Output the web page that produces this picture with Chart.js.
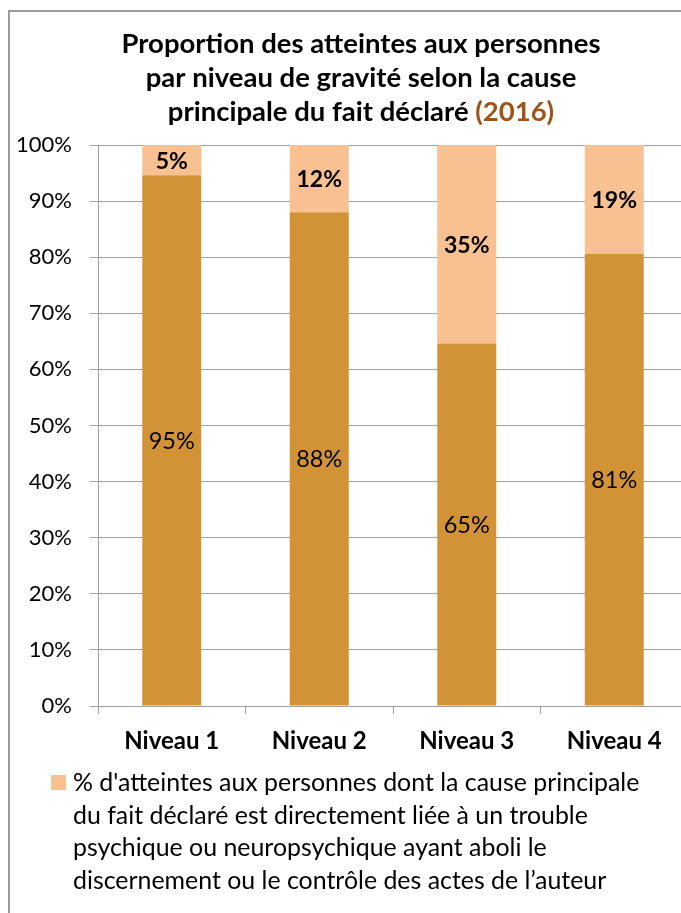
<!DOCTYPE html>
<html>
<head>
<meta charset="utf-8">
<script src="https://cdn.jsdelivr.net/npm/chart.js@4.4.1/dist/chart.umd.min.js"></script>
<style>
    html, body { margin: 0; padding: 0; background: #fff; overflow: hidden; }
    #frame { position: absolute; left: 8px; top: 10px; width: 900px; height: 1000px;
             border-left: 2px solid #9a9a9a; border-top: 2px solid #9a9a9a; }
    #wrap { position: absolute; left: 0; top: 0; width: 700px; height: 913px; }
</style>
</head>
<body>
<div id="frame"></div>
<div id="wrap"><canvas id="chart" width="700" height="913"></canvas></div>
<script>
// Data
const categories = ['Niveau 1', 'Niveau 2', 'Niveau 3', 'Niveau 4'];
const otherCauses = [94.6, 88, 64.6, 80.6];
const troubleCause = [5.4, 12, 35.4, 19.4];
const yTicks = [0, 10, 20, 30, 40, 50, 60, 70, 80, 90, 100];

const titleLines = [
    'Proportion des atteintes aux personnes',
    'par niveau de gravité selon la cause',
    'principale du fait déclaré'
];
const titleYear = '(2016)';
const legendLines = [
    "% d'atteintes aux personnes dont la cause principale",
    'du fait déclaré est directement liée à un trouble',
    'psychique ou neuropsychique ayant aboli le',
    'discernement ou le contrôle des actes de l\u2019auteur'
];

const FONT = 'Lato, "Liberation Sans", Arial, sans-serif';
const DARK = '#D29337';
const LIGHT = '#F9C191';

// Title with the year in brown
const titlePlugin = {
    id: 'titlePlugin',
    afterDraw(chart) {
        const ctx = chart.ctx;
        const cx = 361;
        const baselines = [53, 87, 121];
        ctx.save();
        ctx.font = 'bold 27.5px ' + FONT;
        ctx.textBaseline = 'alphabetic';
        ctx.fillStyle = '#000';
        titleLines.forEach((line, i) => {
            if (i < titleLines.length - 1) {
                ctx.textAlign = 'center';
                ctx.fillText(line, cx, baselines[i]);
            } else {
                const first = line + ' ';
                const w1 = ctx.measureText(first).width;
                const w2 = ctx.measureText(titleYear).width;
                const x0 = cx - (w1 + w2) / 2;
                ctx.textAlign = 'left';
                ctx.fillText(first, x0, baselines[i]);
                ctx.fillStyle = '#9E5418';
                ctx.fillText(titleYear, x0 + w1, baselines[i]);
            }
        });
        ctx.restore();
    }
};

// Percent labels in the middle of each segment
const valueLabels = {
    id: 'valueLabels',
    afterDatasetsDraw(chart) {
        const ctx = chart.ctx;
        ctx.save();
        ctx.textAlign = 'center';
        ctx.textBaseline = 'middle';
        ctx.fillStyle = '#000';
        chart.data.datasets.forEach((ds, i) => {
            const meta = chart.getDatasetMeta(i);
            ctx.font = (i === 1 ? 'bold 23px ' : '23.5px ') + FONT;
            meta.data.forEach((bar, j) => {
                const y = (bar.y + bar.base) / 2;
                ctx.fillText(Math.round(ds.data[j]) + '%', bar.x, y + 1);
            });
        });
        ctx.restore();
    }
};

// Legend with wrapped text, only the second series
const wrappedLegend = {
    id: 'wrappedLegend',
    afterDraw(chart) {
        const ctx = chart.ctx;
        const ds = chart.data.datasets[1];
        ctx.save();
        ctx.fillStyle = ds.backgroundColor;
        ctx.fillRect(51, 775, 15, 15);
        ctx.fillStyle = '#000';
        ctx.font = '24.9px ' + FONT;
        ctx.textAlign = 'left';
        ctx.textBaseline = 'alphabetic';
        legendLines.forEach((line, i) => {
            ctx.fillText(line, 73, 791 + i * 32.7);
        });
        ctx.restore();
    }
};

const ctx = document.getElementById('chart').getContext('2d');
new Chart(ctx, {
    type: 'bar',
    data: {
        labels: categories,
        datasets: [
            {
                label: 'Autres causes',
                data: otherCauses,
                backgroundColor: DARK,
                borderWidth: 0
            },
            {
                label: legendLines.join(' '),
                data: troubleCause,
                backgroundColor: LIGHT,
                borderWidth: 0
            }
        ]
    },
    options: {
        responsive: false,
        animation: false,
        layout: {
            padding: { top: 145, right: 12, bottom: 157, left: 0 }
        },
        datasets: {
            bar: { barPercentage: 0.4, categoryPercentage: 1 }
        },
        scales: {
            x: {
                stacked: true,
                grid: {
                    offset: true,
                    drawOnChartArea: false,
                    drawTicks: true,
                    tickLength: 8,
                    color: '#a0a0a0'
                },
                border: { color: '#a0a0a0', width: 1 },
                ticks: {
                    color: '#000',
                    padding: 13,
                    font: { family: FONT, size: 24, weight: 'bold' }
                },
                afterFit: (scale) => { scale.height = 50; }
            },
            y: {
                stacked: true,
                min: 0,
                max: 100,
                afterBuildTicks: (scale) => {
                    scale.ticks = yTicks.map(v => ({ value: v }));
                },
                grid: {
                    color: '#a0a0a0',
                    tickLength: 8
                },
                border: { color: '#a0a0a0', width: 1 },
                ticks: {
                    color: '#000',
                    padding: 18,
                    font: { family: FONT, size: 22 },
                    callback: (v) => v + '%'
                },
                afterFit: (scale) => { scale.width = 98; }
            }
        },
        plugins: {
            legend: { display: false },
            title: { display: false },
            tooltip: { enabled: false }
        }
    },
    plugins: [titlePlugin, valueLabels, wrappedLegend]
});
</script>
</body>
</html>
